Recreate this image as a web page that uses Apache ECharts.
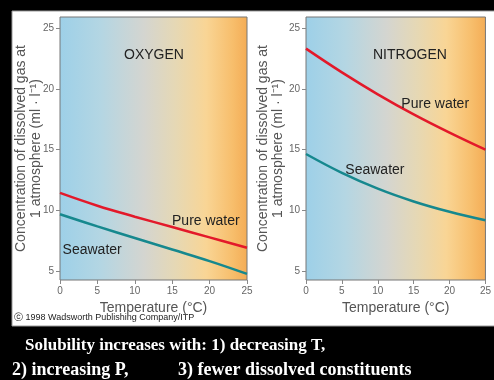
<!DOCTYPE html>
<html>
<head>
<meta charset="utf-8">
<script src="https://cdn.jsdelivr.net/npm/echarts@6/dist/echarts.min.js"></script>
<style>
  html, body { margin: 0; padding: 0; background: #000; }
  #main { width: 494px; height: 380px; }
</style>
</head>
<body>
<div id="main"></div>
<script>
// temperature (°C) at which values were read
const temps = [0, 5, 10, 15, 20, 25]
// oxygen, ml/l
const oxygenPure = [11.45, 10.4, 9.5, 8.65, 7.8, 6.95]
const oxygenSea = [9.7, 8.7, 7.75, 6.8, 5.85, 4.8]
// nitrogen, ml/l
const nitrogenPure = [23.3, 21.35, 19.55, 17.9, 16.4, 15.0]
const nitrogenSea = [14.65, 13.1, 11.8, 10.75, 9.9, 9.2]
const yTicks = [5, 10, 15, 20, 25]

const pairs = (vals) => temps.map((t, i) => [t, vals[i]])

var myChart = echarts.init(document.getElementById('main'))

const bg = {
  type: 'linear', x: 0, y: 0, x2: 1, y2: 0,
  colorStops: [
    { offset: 0, color: '#9dd0e8' },
    { offset: 0.22, color: '#b4d6e3' },
    { offset: 0.45, color: '#d4d5d0' },
    { offset: 0.62, color: '#e6d8b4' },
    { offset: 0.78, color: '#f9d595' },
    { offset: 0.92, color: '#f7be6c' },
    { offset: 1, color: '#f4ac55' }
  ]
}

const grey = '#666'
const font = 'Liberation Sans, Arial, sans-serif'
const serif = 'Liberation Serif, Times New Roman, serif'

function xAxis (idx) {
  return {
    type: 'value',
    gridIndex: idx,
    min: 0,
    max: 25,
    interval: 5,
    splitLine: { show: false },
    axisLine: { show: false },
    axisTick: { show: true, length: 4, lineStyle: { color: '#888' } },
    axisLabel: { color: grey, fontSize: 10, fontFamily: font, margin: 6 },
    name: 'Temperature (°C)',
    nameLocation: 'middle',
    nameGap: 17,
    nameTextStyle: { color: '#555', fontSize: 14, fontFamily: font }
  }
}

function yAxis (idx, gap) {
  return {
    type: 'value',
    gridIndex: idx,
    min: 4.3,
    max: 25.9,
    splitLine: { show: false },
    axisLine: { show: false },
    axisTick: { show: true, length: 4, customValues: yTicks, lineStyle: { color: '#888' } },
    axisLabel: { color: grey, fontSize: 10, fontFamily: font, margin: 6, customValues: yTicks },
    name: 'Concentration of dissolved gas at\n1 atmosphere (ml · l⁻¹)',
    nameLocation: 'middle',
    nameGap: gap,
    nameMoveOverlap: false,
    nameTextStyle: { color: '#555', fontSize: 14, lineHeight: 15, fontFamily: font }
  }
}

function tag (text, x, y) {
  return {
    coord: [x, y],
    symbol: 'circle',
    symbolSize: 0,
    label: { show: true, formatter: text, color: '#222', fontSize: 14, fontFamily: font, position: 'inside' }
  }
}

function line (name, idx, vals, color, mark) {
  return {
    name: name,
    type: 'line',
    xAxisIndex: idx,
    yAxisIndex: idx,
    smooth: 0.4,
    symbol: 'none',
    lineStyle: { color: color, width: 2.5 },
    data: pairs(vals),
    markPoint: { silent: true, data: [mark] }
  }
}

var option = {
  backgroundColor: '#000',
  animation: false,
  graphic: [
    {
      type: 'rect',
      z: -10,
      shape: { x: 12, y: 11, width: 484, height: 315 },
      style: { fill: '#fff', stroke: '#999', lineWidth: 1 }
    },
    {
      type: 'text',
      left: 14,
      top: 313,
      style: { text: 'ⓒ 1998 Wadsworth Publishing Company/ITP', fill: '#222', fontSize: 9, fontFamily: font }
    },
    {
      type: 'text',
      left: 25,
      top: 337,
      style: { text: 'Solubility increases with: 1) decreasing T,', fill: '#fff', fontSize: 17, fontWeight: 'bold', fontFamily: serif }
    },
    {
      type: 'text',
      left: 12,
      top: 361,
      style: { text: '2) increasing P,', fill: '#fff', fontSize: 18, fontWeight: 'bold', fontFamily: serif }
    },
    {
      type: 'text',
      left: 178,
      top: 361,
      style: { text: '3) fewer dissolved constituents', fill: '#fff', fontSize: 18, fontWeight: 'bold', fontFamily: serif }
    }
  ],
  title: [
    { text: 'OXYGEN', left: 119, top: 43, textStyle: { color: '#222', fontSize: 14, fontWeight: 'normal', fontFamily: font } },
    { text: 'NITROGEN', left: 368, top: 43, textStyle: { color: '#222', fontSize: 14, fontWeight: 'normal', fontFamily: font } }
  ],
  grid: [
    { left: 60, right: 247, top: 17, bottom: 100, show: true, backgroundColor: bg, borderColor: '#777', borderWidth: 1 },
    { left: 306, right: 3, top: 17, bottom: 100, show: true, backgroundColor: bg, borderColor: '#777', borderWidth: 1 }
  ],
  xAxis: [xAxis(0), xAxis(1)],
  yAxis: [yAxis(0, 16), yAxis(1, 20)],
  series: [
    line('Pure water', 0, oxygenPure, '#e3192a', tag('Pure water', 19.5, 9.1)),
    line('Seawater', 0, oxygenSea, '#16888e', tag('Seawater', 4.3, 6.75)),
    line('Pure water', 1, nitrogenPure, '#e3192a', tag('Pure water', 18, 18.75)),
    line('Seawater', 1, nitrogenSea, '#16888e', tag('Seawater', 9.6, 13.35))
  ]
}

myChart.setOption(option)
</script>
</body>
</html>
